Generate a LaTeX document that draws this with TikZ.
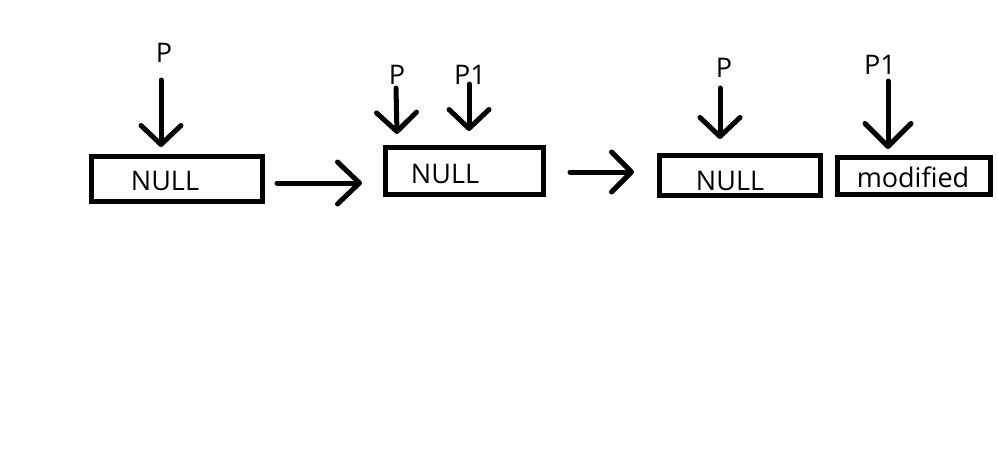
\documentclass[tikz,border=0pt]{standalone}
\usepackage{fontspec}
\setmainfont{Open Sans}
\usetikzlibrary{arrows.meta}
\begin{document}
\begin{tikzpicture}[x=1pt,y=-1pt,
  box/.style={draw=black,line width=5pt,minimum height=#1,inner sep=0pt,fill=white},
  txt/.style={font=\fontsize{27}{30}\selectfont,inner sep=0pt,anchor=center},
  ptr/.style={line width=5pt,line cap=round,-{Straight Barb[length=19pt,width=40pt,line cap=round,line join=round]}}]
\useasboundingbox[fill=white] (0,0) rectangle (998,460);
% boxes
\node[box=45pt,minimum width=171pt] (b1) at (176.5,178.5) {};
\node[box=47pt,minimum width=158pt] (b2) at (464,170.5) {};
\node[box=40pt,minimum width=161pt] (b3) at (739.5,175) {};
\node[box=37pt,minimum width=153pt] (b4) at (913.5,175.5) {};
% box texts
\node[txt] (t1) at (165,181) {NULL};
\node[txt] (t2) at (445,174) {NULL};
\node[txt] (t3) at (730,181) {NULL};
\node[txt] (t4) at (913,177) {modified};
% pointer labels
\node[txt] (l1) at (164,53) {P};
\node[txt] (l2) at (397,75) {P};
\node[txt] (l3) at (470,75) {P1};
\node[txt] (l4) at (724,68) {P};
\node[txt] (l5) at (880,65) {P1};
% pointer arrow ends
\coordinate (s1) at (161,80);  \coordinate (e1) at (161,147);
\coordinate (s2) at (396,88);  \coordinate (e2) at (397,134);
\coordinate (s3) at (469,84);  \coordinate (e3) at (469,131);
\coordinate (s4) at (720,88);  \coordinate (e4) at (720,139);
\coordinate (s5) at (888,81);  \coordinate (e5) at (888,149);
\draw[ptr] (s1) -- (e1);
\draw[ptr] (s2) -- (e2);
\draw[ptr] (s3) -- (e3);
\draw[ptr] (s4) -- (e4);
\draw[ptr,-{Straight Barb[length=23pt,width=46pt,line cap=round,line join=round]}] (s5) -- (e5);
% transition arrows
\coordinate (h1s) at (277,183); \coordinate (h1e) at (362,183);
\coordinate (h2s) at (570,172); \coordinate (h2e) at (634,172);
\draw[ptr,-{Straight Barb[length=22pt,width=42pt,line cap=round,line join=round]}] (h1s) -- (h1e);
\draw[ptr,-{Straight Barb[length=20pt,width=40pt,line cap=round,line join=round]}] (h2s) -- (h2e);
\end{tikzpicture}
\end{document}
